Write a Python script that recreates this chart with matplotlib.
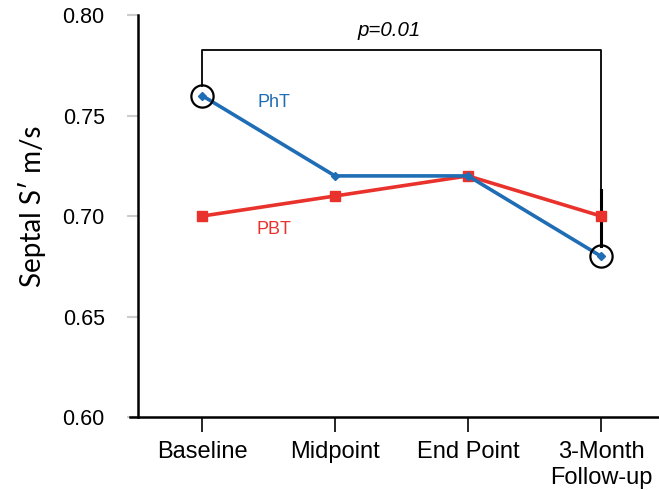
import matplotlib.pyplot as plt

# 数据
timepoints = ['Baseline', 'Midpoint', 'End Point', '3-Month\nFollow-up']
pht_values = [0.76, 0.72, 0.72, 0.68]
pbt_values = [0.70, 0.71, 0.72, 0.70]
y_ticks = [0.60, 0.65, 0.70, 0.75, 0.80]
p_text = 'p=0.01'

plt.rcParams['font.family'] = ['Liberation Sans', 'DejaVu Sans']

fig = plt.figure(figsize=(6.59, 4.9), dpi=100)
ax = fig.add_axes([0.2094, 0.149, 0.7906, 0.820])

x = list(range(len(timepoints)))
blue = '#1f6db4'
red = '#e8322b'

ax.plot(x, pbt_values, color=red, lw=2.6, marker='s', ms=6.5, zorder=3)
ax.plot(x, pht_values, color=blue, lw=2.6, marker='D', ms=4.5, zorder=4)

# 圈出比较的两个点
for i in (0, 3):
    ax.plot(x[i], pht_values[i], marker='o', ms=16, mfc='none', mec='black', mew=1.6, zorder=5)

# 显著性括号
top = 0.7826
ax.plot([x[0], x[0], x[3], x[3]], [pht_values[0] + 0.005, top, top, pht_values[3] + 0.005],
        color='black', lw=1.3, zorder=2)
ax.plot([x[3], x[3]], [pht_values[3] + 0.005, 0.713], color='black', lw=2.2, zorder=2)
ax.text(1.41, 0.7925, p_text, style='italic', fontsize=14.8, ha='center', va='center')

# 系列标签
ax.text(0.54, 0.7565, 'PhT', color=blue, fontsize=13, ha='center', va='center')
ax.text(0.54, 0.6935, 'PBT', color=red, fontsize=13, ha='center', va='center')

ax.set_xlim(-0.481, 3.436)
ax.set_ylim(0.60, 0.80)
ax.set_yticks(y_ticks)
ax.set_yticklabels([f'{v:.2f}' for v in y_ticks])
ax.set_xticks(x)
ax.set_xticklabels(timepoints, linespacing=1.25)
ax.tick_params(axis='y', labelsize=15.5, length=8, width=1.5, pad=16, color='#cccccc')
ax.tick_params(axis='x', labelsize=17, length=11, width=1.2, pad=6)
ax.set_ylabel('Septal S\u2032 m/s', fontsize=20, family=['Lato', 'DejaVu Sans'])
ax.yaxis.set_label_coords(-0.176, 0.525)

for side in ('top', 'right'):
    ax.spines[side].set_visible(False)
ax.spines['left'].set_linewidth(1.8)
ax.spines['bottom'].set_linewidth(1.8)
ax.spines['bottom'].set_bounds(-0.481 - 0.06, 3.436)

fig.savefig('out.png', dpi=100)
